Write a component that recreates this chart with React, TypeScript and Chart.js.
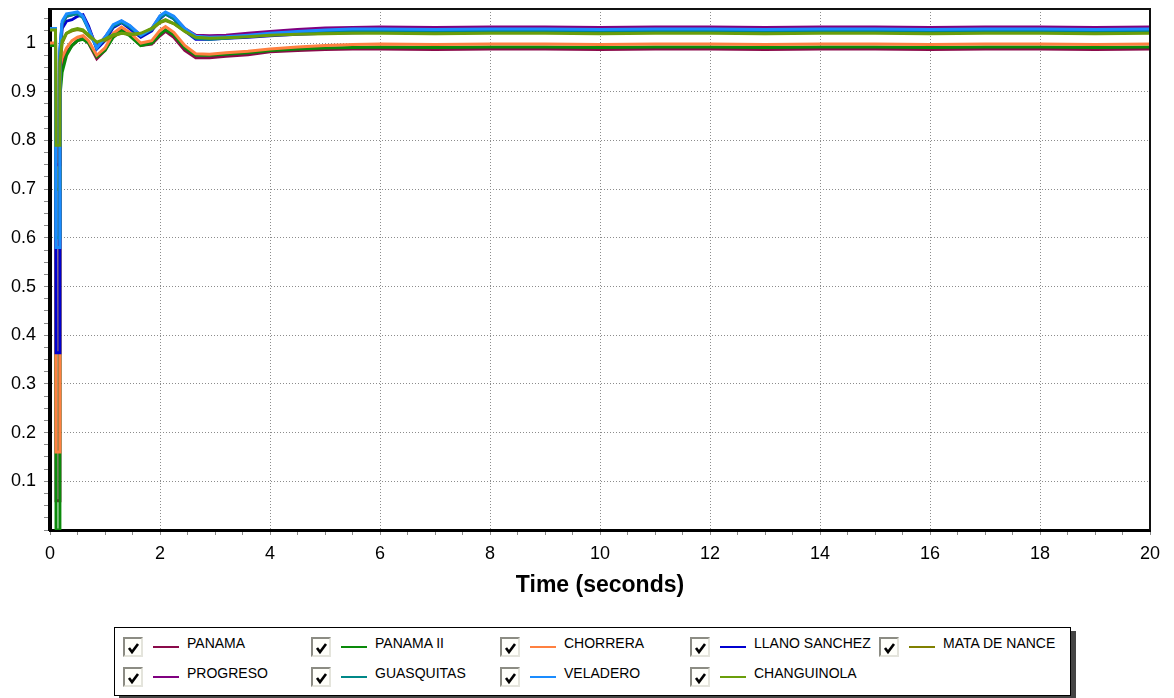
import React, { useEffect, useRef } from 'react';
import { Chart, registerables } from 'chart.js';

Chart.register(...registerables);

// ---------- data ----------
const TIME = [
  0, 0.1, 0.11, 0.17, 0.18, 0.22, 0.3, 0.4, 0.5, 0.6,
  0.7, 0.85, 1.0, 1.15, 1.3, 1.45, 1.65, 1.85, 2.0, 2.1,
  2.25, 2.45, 2.65, 2.9, 3.2, 3.6, 4.0, 4.5, 5.0, 5.5,
  6, 7, 8, 9, 10, 11, 12, 13, 14, 15, 16, 17, 18, 19, 20,
];

const PANAMA = [
  0.995, 0.995, 0.06, 0.06, 0.92, 0.955, 0.98, 0.995, 1.005, 1.01,
  1.0, 0.968, 0.985, 1.015, 1.03, 1.018, 0.995, 0.998, 1.015, 1.024,
  1.012, 0.985, 0.97, 0.97, 0.973, 0.976, 0.982, 0.985, 0.987, 0.988,
  0.988, 0.987, 0.988, 0.988, 0.987, 0.988, 0.988, 0.987, 0.988, 0.988, 0.987, 0.988, 0.988, 0.987, 0.988,
];
const PANAMA_II = [
  0.995, 0.995, 0.0, 0.0, 0.89, 0.94, 0.975, 0.995, 1.005, 1.008,
  1.0, 0.972, 0.985, 1.012, 1.025, 1.015, 0.995, 1.0, 1.018, 1.027,
  1.017, 0.99, 0.975, 0.975, 0.977, 0.98, 0.985, 0.988, 0.99, 0.991,
  0.992, 0.991, 0.992, 0.992, 0.991, 0.992, 0.992, 0.991, 0.992, 0.992, 0.991, 0.992, 0.992, 0.991, 0.992,
];
const CHORRERA = [
  1.0, 1.0, 0.16, 0.16, 0.95, 0.97, 0.99, 1.005, 1.012, 1.015,
  1.005, 0.975, 0.99, 1.02, 1.033, 1.022, 1.0, 1.005, 1.026, 1.034,
  1.022, 0.995, 0.978, 0.977, 0.98, 0.983, 0.988, 0.992, 0.995, 0.997,
  0.998, 0.997, 0.998, 0.998, 0.997, 0.998, 0.998, 0.997, 0.998, 0.998, 0.997, 0.998, 0.998, 0.997, 0.998,
];
const LLANO_SANCHEZ = [
  1.03, 1.03, 0.364, 0.364, 0.96, 1.03, 1.045, 1.048, 1.055, 1.058,
  1.035, 0.988, 1.005, 1.032, 1.042, 1.03, 1.012, 1.025, 1.05, 1.06,
  1.05, 1.025, 1.008, 1.008, 1.01, 1.012, 1.015, 1.018, 1.02, 1.021,
  1.022, 1.021, 1.022, 1.022, 1.021, 1.022, 1.022, 1.021, 1.022, 1.022, 1.021, 1.022, 1.022, 1.021, 1.022,
];
const MATA_DE_NANCE = [
  1.028, 1.028, 0.7, 0.7, 0.95, 1.0, 1.02, 1.025, 1.028, 1.025,
  1.015, 1.0, 1.005, 1.015, 1.02, 1.018, 1.018, 1.028, 1.042, 1.046,
  1.04, 1.025, 1.013, 1.01, 1.012, 1.014, 1.017, 1.02, 1.021, 1.022,
  1.022, 1.021, 1.022, 1.022, 1.021, 1.022, 1.022, 1.021, 1.022, 1.022, 1.021, 1.022, 1.022, 1.021, 1.022,
];
const PROGRESO = [
  1.028, 1.028, 0.75, 0.75, 0.98, 1.04, 1.055, 1.058, 1.062, 1.055,
  1.03, 0.992, 1.012, 1.036, 1.045, 1.035, 1.016, 1.03, 1.055, 1.062,
  1.054, 1.03, 1.016, 1.015, 1.016, 1.02, 1.024, 1.028, 1.031, 1.032,
  1.033, 1.032, 1.033, 1.033, 1.032, 1.033, 1.033, 1.032, 1.033, 1.033, 1.032, 1.033, 1.033, 1.032, 1.033,
];
const GUASQUITAS = [
  1.03, 1.03, 0.6, 0.6, 0.98, 1.04, 1.055, 1.058, 1.06, 1.052,
  1.028, 0.99, 1.01, 1.035, 1.043, 1.033, 1.015, 1.028, 1.052, 1.06,
  1.05, 1.026, 1.01, 1.008, 1.01, 1.014, 1.018, 1.022, 1.025, 1.026,
  1.026, 1.025, 1.026, 1.026, 1.025, 1.026, 1.026, 1.025, 1.026, 1.026, 1.025, 1.026, 1.026, 1.025, 1.026,
];
const VELADERO = [
  1.03, 1.03, 0.58, 0.58, 0.99, 1.045, 1.06, 1.062, 1.064, 1.055,
  1.03, 0.99, 1.012, 1.038, 1.046, 1.036, 1.016, 1.03, 1.056, 1.064,
  1.055, 1.03, 1.014, 1.012, 1.013, 1.016, 1.02, 1.024, 1.027, 1.029,
  1.029, 1.028, 1.029, 1.029, 1.028, 1.029, 1.029, 1.028, 1.029, 1.029, 1.028, 1.029, 1.029, 1.028, 1.029,
];
const CHANGUINOLA = [
  1.027, 1.027, 0.79, 0.79, 0.96, 1.005, 1.02, 1.027, 1.03, 1.027,
  1.017, 1.002, 1.008, 1.017, 1.02, 1.018, 1.02, 1.03, 1.043, 1.048,
  1.04, 1.024, 1.012, 1.01, 1.011, 1.013, 1.016, 1.018, 1.019, 1.02,
  1.02, 1.019, 1.02, 1.02, 1.019, 1.02, 1.02, 1.019, 1.02, 1.02, 1.019, 1.02, 1.02, 1.019, 1.02,
];

const SERIES_NAMES = [
  'PANAMA', 'PANAMA II', 'CHORRERA', 'LLANO SANCHEZ', 'MATA DE NANCE',
  'PROGRESO', 'GUASQUITAS', 'VELADERO', 'CHANGUINOLA',
];
const SERIES_VALUES = [
  PANAMA, PANAMA_II, CHORRERA, LLANO_SANCHEZ, MATA_DE_NANCE,
  PROGRESO, GUASQUITAS, VELADERO, CHANGUINOLA,
];
const SERIES_COLORS = [
  '#8a0a4a', '#0a8a0a', '#ff8040', '#0000d0', '#808000',
  '#800080', '#008888', '#1a8cff', '#6a9e0a',
];
// drawing weight: lower number is drawn on top
const SERIES_ORDER = [8, 7, 6, 5, 4, 3, 2, 1, 0];

const X_TICKS = [
  0, 0.5, 1, 1.5, 2, 2.5, 3, 3.5, 4, 4.5, 5, 5.5, 6, 6.5, 7, 7.5, 8, 8.5, 9, 9.5,
  10, 10.5, 11, 11.5, 12, 12.5, 13, 13.5, 14, 14.5, 15, 15.5, 16, 16.5, 17, 17.5,
  18, 18.5, 19, 19.5, 20,
];
const X_LABELS = [0, 2, 4, 6, 8, 10, 12, 14, 16, 18, 20];
const Y_TICKS = [
  0, 0.025, 0.05, 0.075, 0.1, 0.125, 0.15, 0.175, 0.2, 0.225, 0.25, 0.275, 0.3,
  0.325, 0.35, 0.375, 0.4, 0.425, 0.45, 0.475, 0.5, 0.525, 0.55, 0.575, 0.6,
  0.625, 0.65, 0.675, 0.7, 0.725, 0.75, 0.775, 0.8, 0.825, 0.85, 0.875, 0.9,
  0.925, 0.95, 0.975, 1.0, 1.025, 1.05,
];
const Y_LABELS = [0.1, 0.2, 0.3, 0.4, 0.5, 0.6, 0.7, 0.8, 0.9, 1];

const FONT = '"Liberation Sans", Arial, Helvetica, sans-serif';

const isIn = (arr: number[], v: number) => arr.some((a) => Math.abs(a - v) < 1e-6);

const frame = {
  id: 'frame',
  afterDraw(chart: any) {
    const { ctx, chartArea: a } = chart;
    ctx.save();
    ctx.strokeStyle = '#111';
    ctx.lineWidth = 2;
    ctx.beginPath();
    ctx.moveTo(a.left, a.top);
    ctx.lineTo(a.right, a.top);
    ctx.lineTo(a.right, a.bottom);
    ctx.stroke();
    ctx.restore();
  },
};

function Check() {
  return (
    <svg width="16" height="16" viewBox="0 0 16 16" style={{ position: 'absolute', left: 1, top: 1 }}>
      <polyline points="3,8 6,12 12,4" fill="none" stroke="#000" strokeWidth="2.6" />
    </svg>
  );
}

const COL_X = [8, 196, 385, 575, 764];
const ROW_Y = [9, 39];

export default function App() {
  const ref = useRef<HTMLCanvasElement | null>(null);

  useEffect(() => {
    if (!ref.current) return;
    const datasets = SERIES_NAMES.map((name, si) => ({
      label: name,
      data: TIME.map((t, i) => ({ x: t, y: SERIES_VALUES[si][i] })),
      borderColor: SERIES_COLORS[si],
      backgroundColor: SERIES_COLORS[si],
      borderWidth: 3,
      pointRadius: 0,
      tension: 0,
      fill: false,
      order: SERIES_ORDER[si],
    }));
    const chart = new Chart(ref.current, {
      type: 'line',
      data: { datasets },
      plugins: [frame],
      options: {
        responsive: false,
        animation: false,
        layout: { padding: { top: 1, right: 24, left: 0, bottom: 0 } },
        plugins: { legend: { display: false }, tooltip: { enabled: false } },
        scales: {
          x: {
            type: 'linear',
            min: 0,
            max: 20,
            afterBuildTicks: (s: any) => {
              s.ticks = X_TICKS.map((v) => ({ value: v }));
            },
            afterFit: (s: any) => {
              s.height = 90;
              s.paddingLeft = 0;
              s.paddingRight = 0;
            },
            ticks: {
              autoSkip: false,
              maxRotation: 0,
              padding: 8,
              color: '#000',
              font: { family: FONT, size: 18 },
              callback: (v: any) => (isIn(X_LABELS, Number(v)) ? String(v) : ''),
            },
            grid: {
              color: (c: any) => {
                const v = c.tick ? c.tick.value : -1;
                return isIn(X_LABELS, v) && v > 0 && v < 20 ? '#8c8c8c' : 'rgba(0,0,0,0)';
              },
              tickColor: '#8a8a8a',
              tickLength: 5,
              lineWidth: 1,
            },
            border: { display: true, color: '#000', width: 3, dash: [1, 2] },
            title: {
              display: true,
              text: 'Time (seconds)',
              color: '#000',
              font: { family: FONT, size: 23, weight: 'bold' },
              padding: { top: 4, bottom: 21 },
            },
          },
          y: {
            type: 'linear',
            min: 0,
            max: 1.07,
            afterBuildTicks: (s: any) => {
              s.ticks = Y_TICKS.map((v) => ({ value: v }));
            },
            afterFit: (s: any) => {
              s.width = 42;
              s.paddingTop = 0;
              s.paddingBottom = 0;
            },
            ticks: {
              autoSkip: false,
              padding: 8,
              color: '#000',
              font: { family: FONT, size: 18 },
              callback: (v: any) => {
                const n = Number(v);
                return isIn(Y_LABELS, n) ? String(Math.round(n * 10) / 10) : '';
              },
            },
            grid: {
              color: (c: any) => {
                const v = c.tick ? c.tick.value : -1;
                return isIn(Y_LABELS, v) ? '#8c8c8c' : 'rgba(0,0,0,0)';
              },
              tickColor: '#8a8a8a',
              tickLength: 6,
              lineWidth: 1,
            },
            border: { display: true, color: '#000', width: 4, dash: [1, 2] },
          },
        },
      } as any,
    });
    return () => chart.destroy();
  }, []);

  return (
    <div style={{ position: 'relative', width: 1166, height: 690, fontFamily: FONT }}>
      <canvas ref={ref} width={1166} height={612} style={{ position: 'absolute', left: 0, top: 0 }} />
      <div
        style={{
          position: 'absolute',
          left: 106,
          top: 619,
          width: 957,
          height: 69,
          boxSizing: 'border-box',
          border: '1px solid #000',
          background: '#fff',
          boxShadow: '5px 4px 0 #444',
        }}
      >
        {SERIES_NAMES.map((name, i) => {
          const col = i % 5;
          const row = Math.floor(i / 5);
          const x = COL_X[col];
          const y = ROW_Y[row];
          return (
            <React.Fragment key={name}>
              <div
                style={{
                  position: 'absolute',
                  left: x,
                  top: y,
                  width: 20,
                  height: 20,
                  boxSizing: 'border-box',
                  borderStyle: 'solid',
                  borderWidth: 2,
                  borderColor: '#8c8c84 #e4e4dc #e4e4dc #8c8c84',
                  background: '#fffffa',
                }}
              >
                <Check />
              </div>
              <div
                style={{
                  position: 'absolute',
                  left: x + 30,
                  top: y + 9,
                  width: 26,
                  height: 2,
                  background: SERIES_COLORS[i],
                }}
              />
              <div
                style={{
                  position: 'absolute',
                  left: x + 64,
                  top: y - 2,
                  fontSize: 14,
                  lineHeight: '16px',
                  color: '#000',
                  whiteSpace: 'nowrap',
                }}
              >
                {name}
              </div>
            </React.Fragment>
          );
        })}
      </div>
    </div>
  );
}
